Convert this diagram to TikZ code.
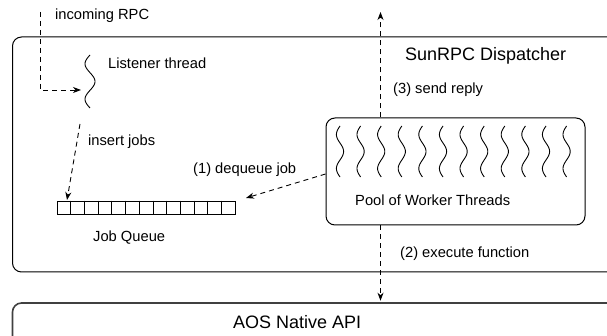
\documentclass[tikz,border=0pt]{standalone}
\usepackage{fontspec}
\setmainfont{Liberation Sans}
\usetikzlibrary{arrows.meta,calc}
\begin{document}
\begin{tikzpicture}[x=1pt,y=-1pt,
  every node/.style={font=\fontsize{14.7}{17}\selectfont, inner sep=0pt},
  lbl/.style={anchor=base west},
  head/.style={anchor=base west, font=\fontsize{18}{21}\selectfont},
  rbox/.style={draw, line width=1pt, rounded corners=9pt},
  flow/.style={line width=0.9pt, dash pattern=on 5pt off 4pt, -{Stealth[length=8pt,width=6pt,inset=2.5pt]}},
  wiggle/.style={line width=0.9pt}]
\useasboundingbox (0,0) rectangle (607,336);
% boxes
\node[rbox, minimum width=608pt, minimum height=235pt] (disp) at (316.5,154.5) {};
\node[rbox, line width=1.6pt, draw=black!75, minimum width=608pt, minimum height=60pt] (aos) at (316.5,333) {};
\node[rbox, minimum width=259pt, minimum height=107pt] (pool) at (455.5,171.5) {};
% queue
\node[draw, line width=0.8pt, minimum width=178.4pt, minimum height=13pt] (queue) at (146.5,207.5) {};
\foreach \i in {1,...,12}
  \draw[line width=0.8pt] ($(queue.north west)+(\i*13.72,0)$) -- ($(queue.south west)+(\i*13.72,0)$);
% listener squiggle
\node[minimum width=10pt, minimum height=53pt] (listener) at (90,81.5) {};
\draw[wiggle] plot[domain=0:540, samples=50, smooth] ({90-5*sin(\x)},{55+\x/540*53});
% worker squiggles
\foreach \k in {0,...,11}
  \draw[wiggle] plot[domain=0:540, samples=50, smooth] ({340+20.6*\k-3.6*sin(\x)},{126+\x/540*51});
% labels
\node[lbl] (trpc) at (55,20) {incoming RPC};
\node[lbl] (tlst) at (108,69) {Listener thread};
\node[lbl] (tins) at (88,146) {insert jobs};
\node[lbl] (tdeq) at (193,174) {(1) dequeue job};
\node[lbl] (tq) at (93,242) {Job Queue};
\node[head] (tdisp) at (405,61) {SunRPC Dispatcher};
\node[lbl] (tsend) at (393,94) {(3) send reply};
\node[lbl] (tpool) at (355,206) {Pool of Worker Threads};
\node[lbl] (texec) at (400,258) {(2) execute function};
\node[head] (taos) at (233,328.5) {AOS Native API};
% connectors
\coordinate (rpc) at (40,12);
\coordinate (lin) at (81,90);
\draw[flow] (rpc) |- (lin);
\coordinate (ins0) at (80,124);
\coordinate (ins1) at (67,200);
\draw[flow] (ins0) -- (ins1);
\coordinate (deq) at (246,198);
\draw[flow] ($(pool.west)+(0,2.5)$) -- (deq);
\coordinate (out) at (380.5,12);
\draw[flow] (pool.north -| out) -- (out);
\draw[flow] (pool.south -| out) -- ($(aos.north -| out)+(0,-1.5)$);
\end{tikzpicture}
\end{document}
